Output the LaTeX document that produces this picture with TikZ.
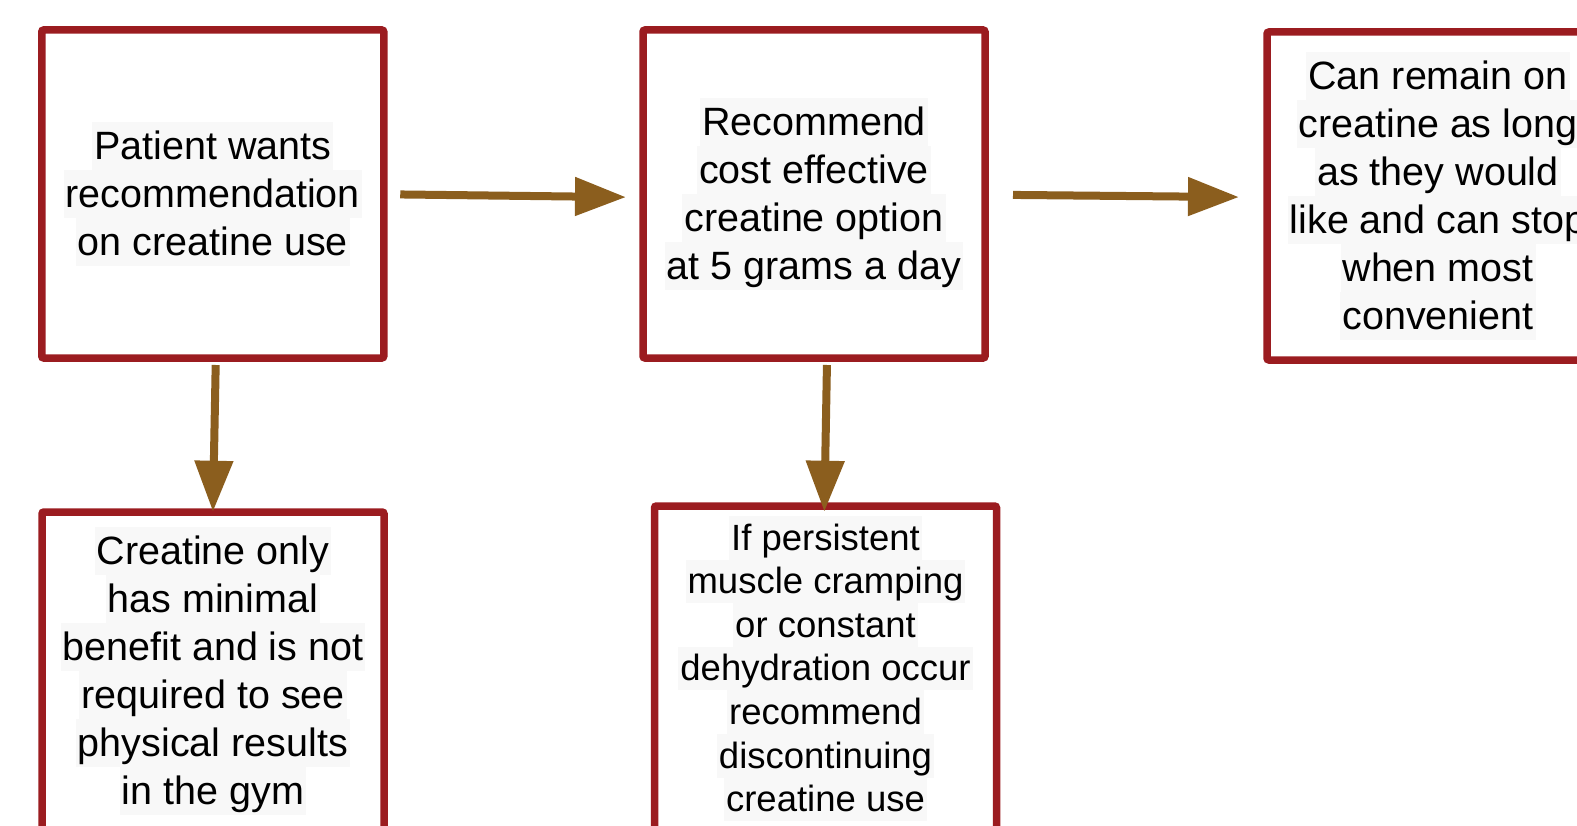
\documentclass[tikz,border=0pt]{standalone}
\usepackage{fontspec}
\setmainfont{Liberation Sans}
\usetikzlibrary{arrows.meta,positioning,calc}
\definecolor{boxred}{RGB}{155,28,32}
\definecolor{arrbrown}{RGB}{139,94,30}
\definecolor{hlgray}{RGB}{248,248,248}
\newcommand{\hlline}[1]{{\setlength{\fboxsep}{0pt}\colorbox{hlgray}{\hspace{2pt}\rule[-0.26em]{0pt}{\baselineskip}#1\hspace{2pt}}}}

\begin{document}
\begin{tikzpicture}[x=1pt,y=-1pt,
  box/.style={draw=boxred, line width=7.5pt, rounded corners=2pt, minimum width=342pt, minimum height=328pt,
              inner sep=0pt, align=center, font=\fontsize{39.5}{48}\selectfont},
  arr/.style={draw=arrbrown, line width=8pt, -{Triangle[length=51pt,width=37pt]}}]
\useasboundingbox (0,0) rectangle (1577,826);
\node[box] (want) at (212.75,194) {\hlline{Patient wants}\\ \hlline{recommendation}\\ \hlline{on creatine use}};
\node[box] (dose) at (814,194) {\hlline{Recommend}\\ \hlline{cost effective}\\ \hlline{creatine option}\\ \hlline{at 5 grams a day}};
\node[box] (stay) at (1438,196) {\hlline{Can remain on}\\ \hlline{creatine as long}\\ \hlline{as they would}\\ \hlline{like and can stop}\\ \hlline{when most}\\ \hlline{convenient}};
\node[box, minimum height=318pt] (minimal) at (213,671) {\hlline{Creatine only}\\ \hlline{has minimal}\\ \hlline{benefit and is not}\\ \hlline{required to see}\\ \hlline{physical results}\\ \hlline{in the gym}};
\node[box, minimum height=325pt, font=\fontsize{36.5}{43.6}\selectfont] (stop) at (825.5,668.5) {\hlline{If persistent}\\ \hlline{muscle cramping}\\ \hlline{or constant}\\ \hlline{dehydration occur}\\ \hlline{recommend}\\ \hlline{discontinuing}\\ \hlline{creatine use}};
% arrows
\draw[arr, shorten <=12.75pt, shorten >=13.25pt] ([yshift=-0.3pt]want.east) -- ([yshift=-3.3pt]dose.west);
\draw[arr, shorten <=24.25pt, shorten >=24.25pt] ([yshift=-0.7pt]dose.east) -- ([yshift=-1.3pt]stay.west);
\draw[arr, shorten <=3.25pt, shorten >=-3.5pt] ([xshift=3pt]want.south) -- (minimal.north);
\draw[arr, shorten <=3.25pt, shorten >=-9.5pt] ([xshift=13pt]dose.south) -- ([xshift=-1pt]stop.north);
\end{tikzpicture}
\end{document}
